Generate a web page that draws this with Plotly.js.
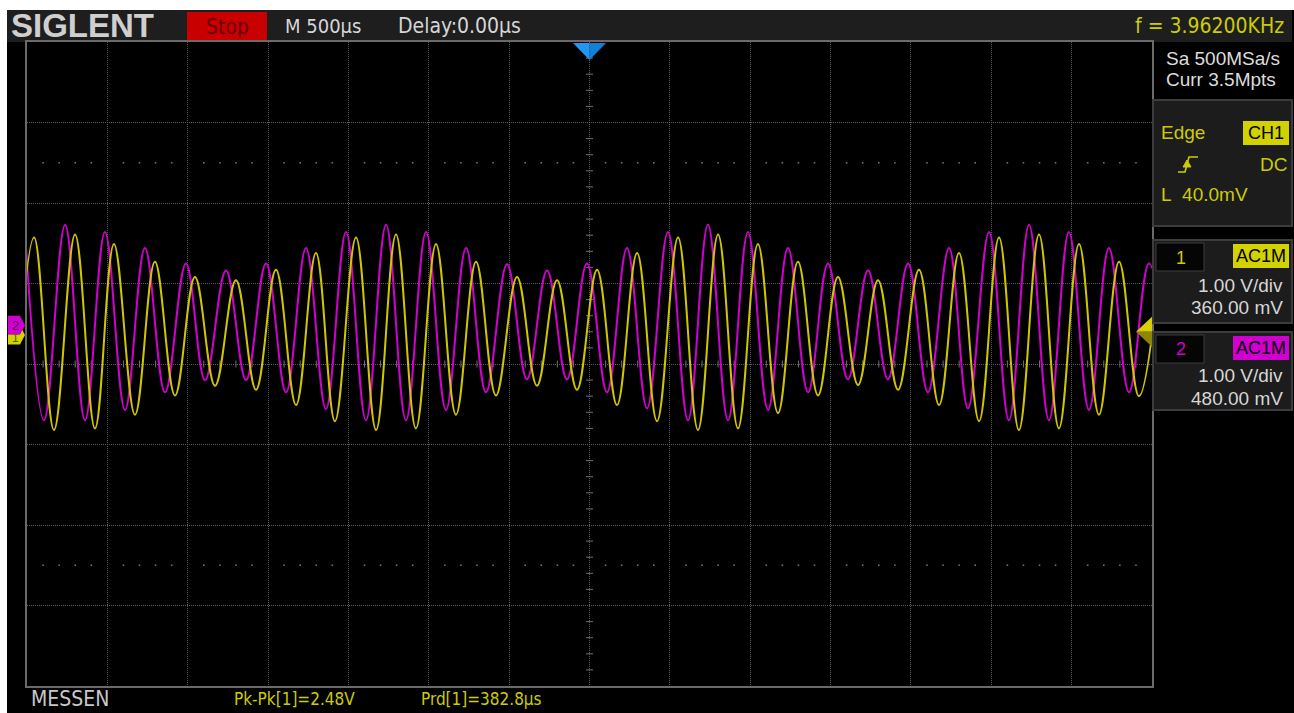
<!DOCTYPE html>
<html><head><meta charset="utf-8">
<script src="https://cdn.plot.ly/plotly-3.0.1.min.js"></script>
<style>html,body{margin:0;padding:0;background:#fff;overflow:hidden}#chart{width:1294px;height:713px}</style>
</head><body><div id="chart"></div>
<script>
// ---- scope settings ----
const timebaseUsPerDiv = 500;
const ch1OffsetV = 0.36;
const ch2OffsetV = 0.48;
const triggerLevelV = 0.04;

// ---- CH1 (yellow) waveform extrema: time (µs), voltage (V) ----
const ch1TimeUs = [-3581,-3456,-3332,-3201,-3077,-2959,-2828,-2704,-2579,-2455,-2330,-2200,-2075,-1951,-1826,-1702,
  -1584,-1453,-1328,-1204,-1080,-955,-831,-706,-582,-451,-327,-202,-78,47,171,296,
  420,551,675,800,924,1048,1173,1297,1422,1546,1671,1795,1920,2050,2175,2299,
  2424,2548,2672,2797,2921,3046,3170,3295,3419,3543];
const ch1Volt = [-1.07,1.21,-1.18,1.25,-1.16,1.13,-0.99,0.91,-0.75,0.72,-0.63,0.68,-0.68,0.81,-0.87,1.02,
  -1.07,1.21,-1.18,1.25,-1.16,1.13,-0.99,0.91,-0.75,0.72,-0.63,0.68,-0.68,0.81,-0.87,1.02,
  -1.07,1.21,-1.18,1.25,-1.16,1.13,-0.97,0.91,-0.75,0.72,-0.62,0.68,-0.68,0.81,-0.87,1.02,
  -1.07,1.21,-1.18,1.25,-1.16,1.13,-0.99,0.91,-0.76,0.72];

// ---- CH2 (magenta) waveform extrema: time (µs), voltage (V) ----
const ch2TimeUs = [-3512,-3394,-3263,-3139,-3015,-2890,-2766,-2641,-2511,-2392,-2262,-2137,-2013,-1888,-1764,-1640,
  -1515,-1391,-1266,-1142,-1017,-893,-768,-644,-513,-389,-264,-140,-16,109,233,358,
  488,613,737,862,986,1111,1235,1360,1484,1608,1733,1857,1982,2106,2237,2355,
  2486,2610,2735,2859,2983,3108,3232,3357,3481,3606];
const ch2Volt = [1.16,-1.18,1.25,-1.18,1.16,-1.05,0.96,-0.83,0.77,-0.68,0.68,-0.68,0.77,-0.83,0.96,-1.04,
  1.16,-1.18,1.25,-1.18,1.16,-1.05,0.96,-0.83,0.76,-0.67,0.68,-0.67,0.77,-0.83,0.96,-1.03,
  1.16,-1.18,1.25,-1.18,1.16,-1.05,0.96,-0.83,0.77,-0.67,0.68,-0.67,0.77,-0.83,0.96,-1.03,
  1.16,-1.18,1.25,-1.18,1.16,-1.05,0.96,-0.83,0.77,-0.68];

// ---- screen texts ----
const topLabels = {brand:'SIGLENT', run:'Stop', timebase:'M 500µs', delay:'Delay:0.00µs', freq:'f = 3.96200KHz'};
const acqLabels = ['Sa 500MSa/s','Curr 3.5Mpts'];
const trigLabels = {type:'Edge', src:'CH1', coupling:'DC', level:'L\u00a0\u00a040.0mV'};
const ch1Labels = {num:'1', coupling:'AC1M', scale:'1.00 V/div', offset:'360.00 mV'};
const ch2Labels = {num:'2', coupling:'AC1M', scale:'1.00 V/div', offset:'480.00 mV'};
const measLabels = {menu:'MESSEN', pkpk:'Pk-Pk[1]=2.48V', prd:'Prd[1]=382.8µs'};

// ---- geometry helpers (pixel -> paper) ----
const Lp=27, Rp=1152, Tp=42, Bp=686;
const px = x => (x-Lp)/(Rp-Lp);
const py = y => (Bp-y)/(Bp-Tp);
function rect(x0,y0,x1,y1,fill,line,lw,layer){
  return {type:'rect',xref:'paper',yref:'paper',x0:px(x0),x1:px(x1),y0:py(y1),y1:py(y0),
    fillcolor:fill,line:{color:line||fill,width:lw||0},layer:layer||'above'};
}
function poly(pts,fill,line,lw,closed){
  return {type:'path',xref:'paper',yref:'paper',
    path:'M'+pts.map(p=>px(p[0]).toFixed(5)+','+py(p[1]).toFixed(5)).join('L')+(closed===false?'':'Z'),
    fillcolor:fill||'rgba(0,0,0,0)',line:{color:line||fill,width:lw||0},layer:'above'};
}
const NARROW = '"Liberation Sans Narrow","Arial Narrow","DejaVu Sans Condensed",sans-serif';
const SANS = '"Liberation Sans",Arial,sans-serif';
function txt(x,y,s,size,color,anchor,family){
  return {xref:'paper',yref:'paper',x:px(x),y:py(y),text:s,showarrow:false,
    xanchor:anchor||'left',yanchor:'middle',borderpad:0,
    font:{family:family||SANS,size:size,color:color}};
}

const YEL='#cccc00', MAG='#d000d0', GREY_T='#d6d6d6';

// ---- decorative sub-division marks ----
const subX=[], subY=[];
for(let k=-35;k<=35;k++){ if(k%5!==0) subX.push(k*timebaseUsPerDiv/5); }
for(let k=-20;k<=20;k++){ if(k%5!==0) subY.push(k*0.2); }

const traces = [
  {x:subX, y:subX.map(()=>0), mode:'markers', hoverinfo:'skip',
   marker:{symbol:'line-ns',size:5,line:{color:'#707070',width:1}}},
  {x:subY.map(()=>0), y:subY, mode:'markers', hoverinfo:'skip',
   marker:{symbol:'line-ew',size:5,line:{color:'#707070',width:1}}},
  {x:subX.concat(subX), y:subX.map(()=>2.5).concat(subX.map(()=>-2.5)), mode:'markers', hoverinfo:'skip',
   marker:{symbol:'square',size:1.6,color:'#707070',line:{width:0}}},
  {x:ch2TimeUs, y:ch2Volt.map(v=>v+ch2OffsetV), mode:'lines', name:'CH2', hoverinfo:'skip',
   line:{color:MAG,width:2,shape:'spline',smoothing:1.1}},
  {x:ch1TimeUs, y:ch1Volt.map(v=>v+ch1OffsetV), mode:'lines', name:'CH1', hoverinfo:'skip',
   line:{color:'#d0c600',width:2,shape:'spline',smoothing:1.1}}
];

const trigY = 686 - (ch1OffsetV+triggerLevelV+4)/8*644; // pixel row of trigger level
const ch1Y = 686 - (ch1OffsetV+4)/8*644;
const ch2Y = 686 - (ch2OffsetV+4)/8*644;

const shapes = [
  // white screenshot margins
  rect(0,0,1294,10,'#ffffff',null,0,'below'),
  rect(0,0,7,713,'#ffffff',null,0,'below'),
  // top bar
  rect(7,10,1292,42,'#1e1e1e',null,0,'below'),
  rect(187,12,267,40,'#c80000'),
  // right panel
  rect(1153,100,1292,226,'#1c1c1c','#3c3c3c',2),
  rect(1243,121,1289,145,'#d2d200'),
  rect(1153,240,1292,323,'#1c1c1c','#3c3c3c',2),
  rect(1156,243,1204,271,'#050505','#3c3c3c',1),
  rect(1233,244,1289,268,'#d2d200'),
  rect(1153,332,1292,410,'#1c1c1c','#3c3c3c',2),
  rect(1156,335,1204,363,'#050505','#3c3c3c',1),
  rect(1233,336,1289,360,'#d000d0'),
  // edge trigger symbol
  poly([[1178,172],[1185,172],[1189,157],[1198,157]],null,YEL,1.6,false),
  poly([[1183,167],[1191,167],[1187,160]],YEL,YEL,1),
  // trigger position marker (top)
  poly([[573,43],[589.5,43],[589.5,60]],'#2196f3'),
  poly([[589.5,43],[606,43],[589.5,60]],'#1280d8'),
  // trigger level marker (right)
  poly([[1136,trigY],[1152,trigY-15],[1152,trigY]],'#d6d000'),
  poly([[1136,trigY],[1152,trigY],[1152,trigY+15]],'#8c8600'),
  // channel offset markers (left)
  poly([[8,ch1Y-9.5],[20,ch1Y-9.5],[25,ch1Y],[20,ch1Y+9.5],[8,ch1Y+9.5]],'#d2d200'),
  poly([[8,ch2Y-9.5],[20,ch2Y-9.5],[25,ch2Y],[20,ch2Y+9.5],[8,ch2Y+9.5]],'#d000d0')
];

const annotations = [
  txt(10,26,'<b>'+topLabels.brand+'</b>',33,'#cfcfcf','left',SANS),
  txt(227,27,topLabels.run,21,'#6e0000','center',NARROW),
  txt(284,26,topLabels.timebase,20,GREY_T,'left',NARROW),
  txt(397,26,topLabels.delay,21,GREY_T,'left',NARROW),
  txt(1285,26,topLabels.freq,21,YEL,'right',NARROW),
  txt(1165,58,acqLabels[0],19,'#dcdcdc','left'),
  txt(1165,80,acqLabels[1],19,'#dcdcdc','left'),
  txt(1160,132,trigLabels.type,19,YEL,'left'),
  txt(1266,133,trigLabels.src,18,'#000000','center'),
  txt(1288,164,trigLabels.coupling,19,YEL,'right'),
  txt(1160,194,trigLabels.level,19,YEL,'left'),
  txt(1181,258,ch1Labels.num,18,YEL,'center'),
  txt(1261,256,ch1Labels.coupling,18,'#000000','center'),
  txt(1284,285,ch1Labels.scale,19,GREY_T,'right'),
  txt(1284,307,ch1Labels.offset,19,GREY_T,'right'),
  txt(1181,349,ch2Labels.num,18,MAG,'center'),
  txt(1261,348,ch2Labels.coupling,18,'#000000','center'),
  txt(1284,376,ch2Labels.scale,19,GREY_T,'right'),
  txt(1284,398,ch2Labels.offset,19,GREY_T,'right'),
  txt(15,ch1Y+3,ch1Labels.num,12,'#5a5a00','center'),
  txt(15,ch2Y,ch2Labels.num,13,'#5a005a','center'),
  txt(30,699,measLabels.menu,21,'#c8c8c8','left',NARROW),
  txt(233,699,measLabels.pkpk,17,YEL,'left',NARROW),
  txt(420,699,measLabels.prd,17,YEL,'left',NARROW)
];

const gridAxis = {showgrid:true, gridcolor:'#5c5c5c', gridwidth:1, griddash:'1px,1px',
  zeroline:false, showticklabels:false, ticks:'', showline:true, mirror:true,
  linecolor:'#6a6a6a', linewidth:2, fixedrange:true};

const layout = {
  width:1294, height:713,
  margin:{l:Lp, r:1294-Rp, t:Tp, b:713-Bp, pad:0},
  paper_bgcolor:'#000000', plot_bgcolor:'#000000',
  showlegend:false,
  xaxis:Object.assign({}, gridAxis, {range:[-7*timebaseUsPerDiv, 7*timebaseUsPerDiv], dtick:timebaseUsPerDiv, tick0:0}),
  yaxis:Object.assign({}, gridAxis, {range:[-4,4], dtick:1, tick0:0}),
  shapes:shapes, annotations:annotations
};

Plotly.newPlot('chart', traces, layout, {displayModeBar:false, staticPlot:true});
</script></body></html>
